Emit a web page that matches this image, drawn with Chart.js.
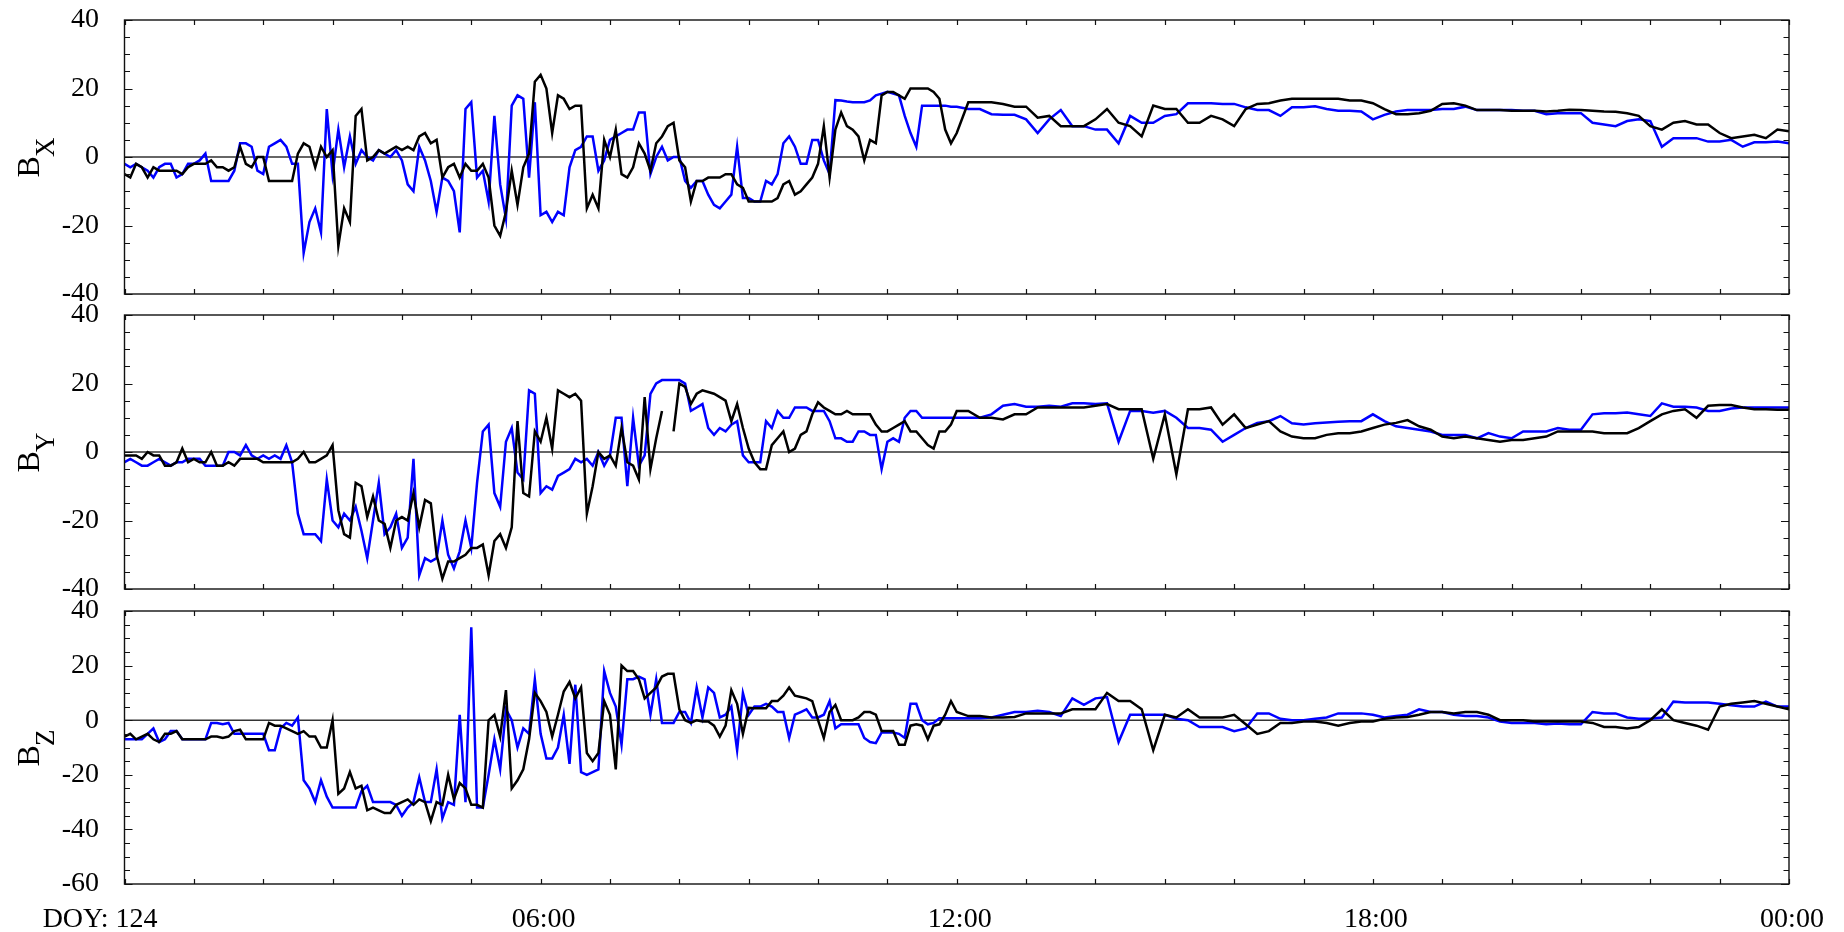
<!DOCTYPE html>
<html>
<head>
<meta charset="utf-8">
<title>B field components DOY 124</title>
<script src="https://cdn.jsdelivr.net/npm/chart.js@4/dist/chart.umd.min.js"></script>
<style>
    html, body { margin: 0; padding: 0; background: #fff; }
    #wrap { position: relative; width: 1844px; height: 932px; overflow: hidden; }
    canvas { position: absolute; left: 0; }
</style>
</head>
<body>
<div id="wrap">
    <canvas id="cBx" width="1844" height="316" style="top:0px"></canvas>
    <canvas id="cBy" width="1844" height="316" style="top:295px"></canvas>
    <canvas id="cBz" width="1844" height="341" style="top:591px"></canvas>
</div>
<script>
// time grid in hours: 5 min steps up to 12:00, 10 min steps after
const hours = [];
for (let m = 0; m <= 720; m += 5) hours.push(m / 60);
for (let m = 730; m <= 1440; m += 10) hours.push(m / 60);

const tickHours = [0, 6, 12, 18, 24];
const tickLabels = ['DOY: 124', '06:00', '12:00', '18:00', '00:00'];

// Bx
const bxBlack = [
    // 00:00 - 06:00
    -5,-6,-2,-3,-6,-3,-4,-4,-4,-4, -5,-3,-2,-2,-2,-1,-3,-3,-4,-3, 3,-2,-3,0,0,-7,-7,-7,-7,-7,
    1,4,3,-3,3,0,2,-26,-15,-19, 12,14,-1,0,2,1,2,3,2,3, 2,6,7,4,5,-6,-3,-2,-6,-2,
    -4,-4,-2,-6,-20,-23,-16,-4,-14,-3, 1,22,
    // 06:00 - 12:00
    24,20,7,18,17,14,15,15,-15,-11, -15,5,0,8,-5,-6,-3,4,1,-4, 4,6,9,10,-1,-3,-13,-7,-7,-6,
    -6,-6,-5,-5,-8,-9,-13,-13,-13,-13, -13,-12,-8,-7,-11,-10,-8,-6,-2,9, -6,8,13,9,8,6,-1,5,4,18,
    19,19,18,17,20,20,20,20,19,17, 8,4,7,
    // 12:10 - 24:00
    16,16,16,15.5,14.7,14.7,11.5,12,9,9, 9,11,14,10,9,6,15,14,14,10, 10,12,11,9,14,15.5,15.7,16.5,17,17,
    17,17,17,16.5,16.5,15.7,14,12.5,12.5,12.8, 13.5,15.5,15.7,15,13.7,13.7,13.7,13.5,13.5,13.5,
    13.3,13.5,13.8,13.7,13.5,13.3,13.2,12.8,12,9, 8,10,10.5,9.5,9.5,7,5.5,6,6.5,5.5, 8,7.5
];
const bxBlue = [
    -2,-3,-2,-3,-4,-6,-3,-2,-2,-6, -5,-2,-2,-1,1,-7,-7,-7,-7,-4, 4,4,3,-4,-5,3,4,5,3,-2,
    -2,-28,-19,-15,-22,14,-5,8,-3,6, -2,2,0,-1,2,1,0,2,-1,-8, -10,3,-1,-7,-16,-6,-7,-10,-22,14,
    16,-6,-4,-13,12,-8,-18,15,18,17, -6,16,
    -17,-16,-19,-16,-17,-3,2,3,6,6, -4,-1,5,6,7,8,8,13,13,-5, 0,3,-1,0,0,-7,-9,-7,-7,-11,
    -14,-15,-13,-11,3,-12,-12,-13,-13,-7, -8,-5,4,6,3,-2,-2,5,5,-1, -5,16.6,16.5,16.2,16,16,16,16.5,18,18.5,
    19,18.5,18,12,7,3,15,15,15,15, 15,14.7,14.7,
    14,14,12.5,12.3,12.3,11,7,11,13.7,9, 9,8,8,4,12,10,10,12,12.5,15.7, 15.7,15.7,15.5,15.5,14.5,13.7,13.7,12,14.5,14.5,
    14.8,14,13.5,13.5,13.3,11,12.3,13.3,13.7,13.7, 13.7,14,14,14.7,13.7,13.7,13.7,13.7,13.5,13.5,
    12.5,12.8,12.8,12.8,10,9.5,9,10.5,11,10.5, 3,5.5,5.5,5.5,4.5,4.5,5,3,4.3,4.3, 4.5,4
];

// By
const byBlack = [
    -1,-1,-1,-2,0,-1,-1,-4,-4,-3, 1,-3,-2,-3,-3,0,-4,-4,-3,-4, -2,-2,-2,-2,-3,-3,-3,-3,-3,-3,
    -2,0,-3,-3,-2,-1,2,-17,-24,-25, -9,-10,-19,-13,-20,-21,-28,-20,-19,-20, -12,-22,-14,-15,-30,-37,-32,-32,-31,-30,
    -28,-28,-27,-36,-26,-24,-28,-22,9,-12, -13,6,
    3,10,1,18,17,16,17,15,-18,-10, 0,-2,-1,-4,7,-3,-4,-8,16,-5, 4,12,null,6,20,19,14,17,18,17.5,
    17,16,15,9,14,7,1,-3,-5,-5, 2,4,6,0,1,5,6,11,14.5,13, 12,11,11,12,11,11,11,11,8,6,
    6,7,8,9,6,6,4,2,1,6, 6,8,12,
    12,10,10,9.5,11,11,13,13,13,13, 13,13.5,14,12.5,12.5,12.5,-2,11,-6.5,12.5, 12.5,13,8,11,7,8,9,6,4.5,4,
    4,5,5.5,5.5,6,7,8,8.5,9.3,7.5, 6.5,4.5,4,4.5,4,3.5,3,3.5,3.5,4,
    4.5,6,6,6,6,5.5,5.5,5.5,7,9, 11,12,12.5,10,13.5,13.7,13.7,13,12.5,12.5, 12.3,12.3
];
const byBlue = [
    -3,-2,-3,-4,-4,-3,-2,-3,-4,-3, -3,-2,-2,-2,-4,-4,-4,-4,0,0, -1,2,-1,-2,-1,-2,-1,-2,2,-3,
    -18,-24,-24,-24,-26,-8,-20,-22,-18,-20, -16,-23,-31,-20,-9,-24,-22,-18,-28,-25, -2,-36,-31,-32,-31,-20,-30,-34,-29,-20,
    -28,-9,6,8,-12,-16,3,7,-6,-8, 18,17,
    -12,-10,-11,-7,-6,-5,-2,-3,-2,-4, 0,-4,-1,10,10,-10,10,-4,-1,17, 20,21,21,21,21,20,12,13,14,7,
    5,7,6,8,9,-1,-3,-3,-3,9, 7,12,10,10,13,13,13,12,12,12, 9,4,4,3,3,6,6,5,5,-5,
    3,4,3,10,12,12,10,10,10,10, 10,10,10,
    10,10,11,13.5,14,13.2,13.2,13.5,13.2,14.2, 14.2,14,14.2,3,12,12,11.5,12,10,7, 7,6.5,3,5,7,8.5,9,10.5,8.4,8,
    8.4,8.6,8.8,9,9,11,9,7.5,7,6.5, 6,5,5,5,4,5.5,4.5,4,6,6,
    6,7,6.5,6.5,11,11.3,11.3,11.5,11,10.5, 14.2,13.2,13.2,13,12,12,12.7,13,13,13, 13,13
];

// Bz
const bzBlack = [
    -6,-5,-7,-6,-5,-7,-8,-5,-5,-4, -7,-7,-7,-7,-7,-6,-6,-6.5,-6,-4, -3.5,-7,-7,-7,-7,-1,-2,-2,-3,-4,
    -5,-4,-6,-6,-10,-10,0,-27,-25,-19, -25,-24,-33,-32,-33,-34,-34,-31,-30,-29, -31,-29,-30,-37,-30,-31,-20,-29,-23,-25,
    -31,-31,-32,0,2,-6,11,-25,-22,-18, -7,10,
    7,3,-6,2,10.5,14,8,12,-12,-15, -12,7,2,-18,20,18,18,15,8,10, 12,16,17,17,4,0,-1,0,-0.5,-0.5,
    -2,-6,-2,11,6,-5,4.5,4.4,4.4,4.4, 7,7,9,12,9,8.5,8,7,0,-6.5, 3,5.6,0,0,0,1,3,3,2,-4,
    -4,-4,-9,-9,-2,-1.5,-2,-7,-2,-1.5, 2,7,3,
    1.5,1.5,1,1,1.2,2.5,2.5,2.5,2.5,4, 4,4,10,7,7,4,-11,2,1,4, 1,1,1,2,-1.5,-5,-4,-1,-1,-0.5,
    -0.5,-1,-2,-1,-0.5,-0.5,0.5,1,1.2,2, 3,3,2.5,3,3,2,0,0,0,-0.5,
    -0.5,-0.5,-0.5,-0.5,-1,-2.5,-2.5,-3,-2.5,0, 4,0,-1,-2,-3.5,5,6,6.5,7,6, 5,4
];
const bzBlue = [
    -7,-7,-7,-7,-5,-3,-8,-7,-4,-4, -7,-7,-7,-7,-7,-1,-1,-1.5,-1,-5, -5,-5,-5,-5,-5,-11,-11,-3,-1,-2,
    1,-22,-25,-30,-22,-28,-32,-32,-32,-32, -32,-26,-24,-30,-30,-30,-30,-31,-35,-32, -30,-21,-30,-30,-18,-36,-30,-31,2,-30,
    34,-32,-32,-20,-7,-18,4,0,-10,-3, -5,15,
    -5,-14,-14,-10,2,-16,13,-19,-20,-19, -18,18,10,5,-9,15,15,16,15,2, 15,-1,-1,-1,3,3,-1,12,1,12,
    10,1,2,5,-11,10,2,5,5,6, 5,3,3,-6.5,2,3,4,1,1,2, 7,-3,-1.5,-1.5,-1.5,-1.5,-6.5,-8,-8.4,-4.5,
    -4.5,-4.5,-5,-6.5,6,6,0,-1.5,-1,0.7, 0.7,0.7,0.7,
    0.7,0.7,1,2,3,3,3.5,3,1.5,8, 5.6,8,8.5,-8,2,2,2,2,0.5,0, -2.5,-2.5,-2.5,-4,-3,2.5,2.5,0.5,0,0,
    0.5,1,2.5,2.5,2.5,2,1,1.5,2,4, 3,3,2,1.5,1.5,1,-0.5,-1,-1,-1,
    -1.5,-1.2,-1.5,-1.5,3,2.5,2.5,1,0.5,0.5, 1,6.8,6.5,6.5,6.5,6,5.5,5,5,6.8, 5,5
];

const SERIF = '"Liberation Serif", "Times New Roman", serif';

// frame, inward ticks, zero line, axis title and time labels
const framePlugin = {
    id: 'frame',
    beforeDatasetsDraw(chart) {
        const { ctx, chartArea: a, scales: { y } } = chart;
        const y0 = y.getPixelForValue(0);
        ctx.save();
        ctx.strokeStyle = '#333';
        ctx.lineWidth = 1.4;
        ctx.beginPath();
        ctx.moveTo(a.left, y0);
        ctx.lineTo(a.right, y0);
        ctx.stroke();
        ctx.restore();
    },
    afterDraw(chart, args, opts) {
        const { ctx, chartArea: a, scales: { x, y } } = chart;
        ctx.save();
        ctx.strokeStyle = '#111';
        ctx.lineWidth = 1.4;
        ctx.strokeRect(a.left, a.top, a.right - a.left, a.bottom - a.top);

        ctx.beginPath();
        for (let v = y.min; v <= y.max; v += 5) {
            const py = Math.round(y.getPixelForValue(v)) + 0.5;
            const len = v % 20 === 0 ? 8 : 5.5;
            ctx.moveTo(a.left, py); ctx.lineTo(a.left + len, py);
            ctx.moveTo(a.right, py); ctx.lineTo(a.right - len, py);
        }
        for (let h = 0; h <= 24; h++) {
            const px = Math.round(x.getPixelForValue(h)) + 0.5;
            ctx.moveTo(px, a.bottom); ctx.lineTo(px, a.bottom - 5);
            ctx.moveTo(px, a.top); ctx.lineTo(px, a.top + 5);
        }
        ctx.lineWidth = 1.2;
        ctx.stroke();

        // axis title B with subscript, rotated
        ctx.fillStyle = '#000';
        const mid = (a.top + a.bottom) / 2;
        ctx.font = '32px ' + SERIF;
        const wB = ctx.measureText('B').width;
        ctx.font = '27px ' + SERIF;
        const wS = ctx.measureText(opts.sub).width;
        ctx.translate(39, mid);
        ctx.rotate(-Math.PI / 2);
        ctx.textBaseline = 'alphabetic';
        ctx.textAlign = 'left';
        const start = -(wB + wS) / 2;
        ctx.font = '32px ' + SERIF;
        ctx.fillText('B', start, 0);
        ctx.font = '27px ' + SERIF;
        ctx.fillText(opts.sub, start + wB - 1, 15);
        ctx.setTransform(1, 0, 0, 1, 0, 0);

        if (opts.timeLabels) {
            ctx.font = '28px ' + SERIF;
            ctx.textBaseline = 'alphabetic';
            tickHours.forEach((h, i) => {
                const px = x.getPixelForValue(h);
                if (i === 0) {
                    ctx.textAlign = 'right';
                    ctx.fillText(tickLabels[i], px + 33, a.bottom + 43);
                } else {
                    ctx.textAlign = 'center';
                    ctx.fillText(tickLabels[i], px + 3, a.bottom + 43);
                }
            });
        }
        ctx.restore();
    }
};

function toPoints(values) {
    return hours.map((h, i) => ({ x: h, y: values[i] }));
}

function makePanel(canvasId, sub, black, blue, yMin, yMax, timeLabels, padBottom) {
    const ctx = document.getElementById(canvasId).getContext('2d');
    return new Chart(ctx, {
        type: 'line',
        data: {
            datasets: [
                { data: toPoints(black), borderColor: '#000000', borderWidth: 2.5, pointRadius: 0, tension: 0 },
                { data: toPoints(blue), borderColor: '#0000ff', borderWidth: 2.5, pointRadius: 0, tension: 0 }
            ]
        },
        options: {
            responsive: false,
            animation: false,
            events: [],
            layout: { padding: { left: 0, right: 55, top: 20, bottom: padBottom } },
            plugins: {
                legend: { display: false },
                tooltip: { enabled: false },
                frame: { sub: sub, timeLabels: timeLabels }
            },
            scales: {
                x: { type: 'linear', min: 0, max: 24, display: false },
                y: {
                    type: 'linear',
                    min: yMin,
                    max: yMax,
                    grid: { display: false, drawTicks: false },
                    border: { display: false },
                    ticks: {
                        stepSize: 20,
                        padding: 25.5,
                        color: '#000',
                        font: { family: SERIF, size: 28 }
                    },
                    afterFit(scale) {
                        scale.width = 124.5;
                        scale.paddingTop = 0;
                        scale.paddingBottom = 0;
                    }
                }
            }
        },
        plugins: [framePlugin]
    });
}

makePanel('cBx', 'X', bxBlack, bxBlue, -40, 40, false, 22);
makePanel('cBy', 'Y', byBlack, byBlue, -40, 40, false, 22);
makePanel('cBz', 'Z', bzBlack, bzBlue, -60, 40, true, 48);
</script>
</body>
</html>
